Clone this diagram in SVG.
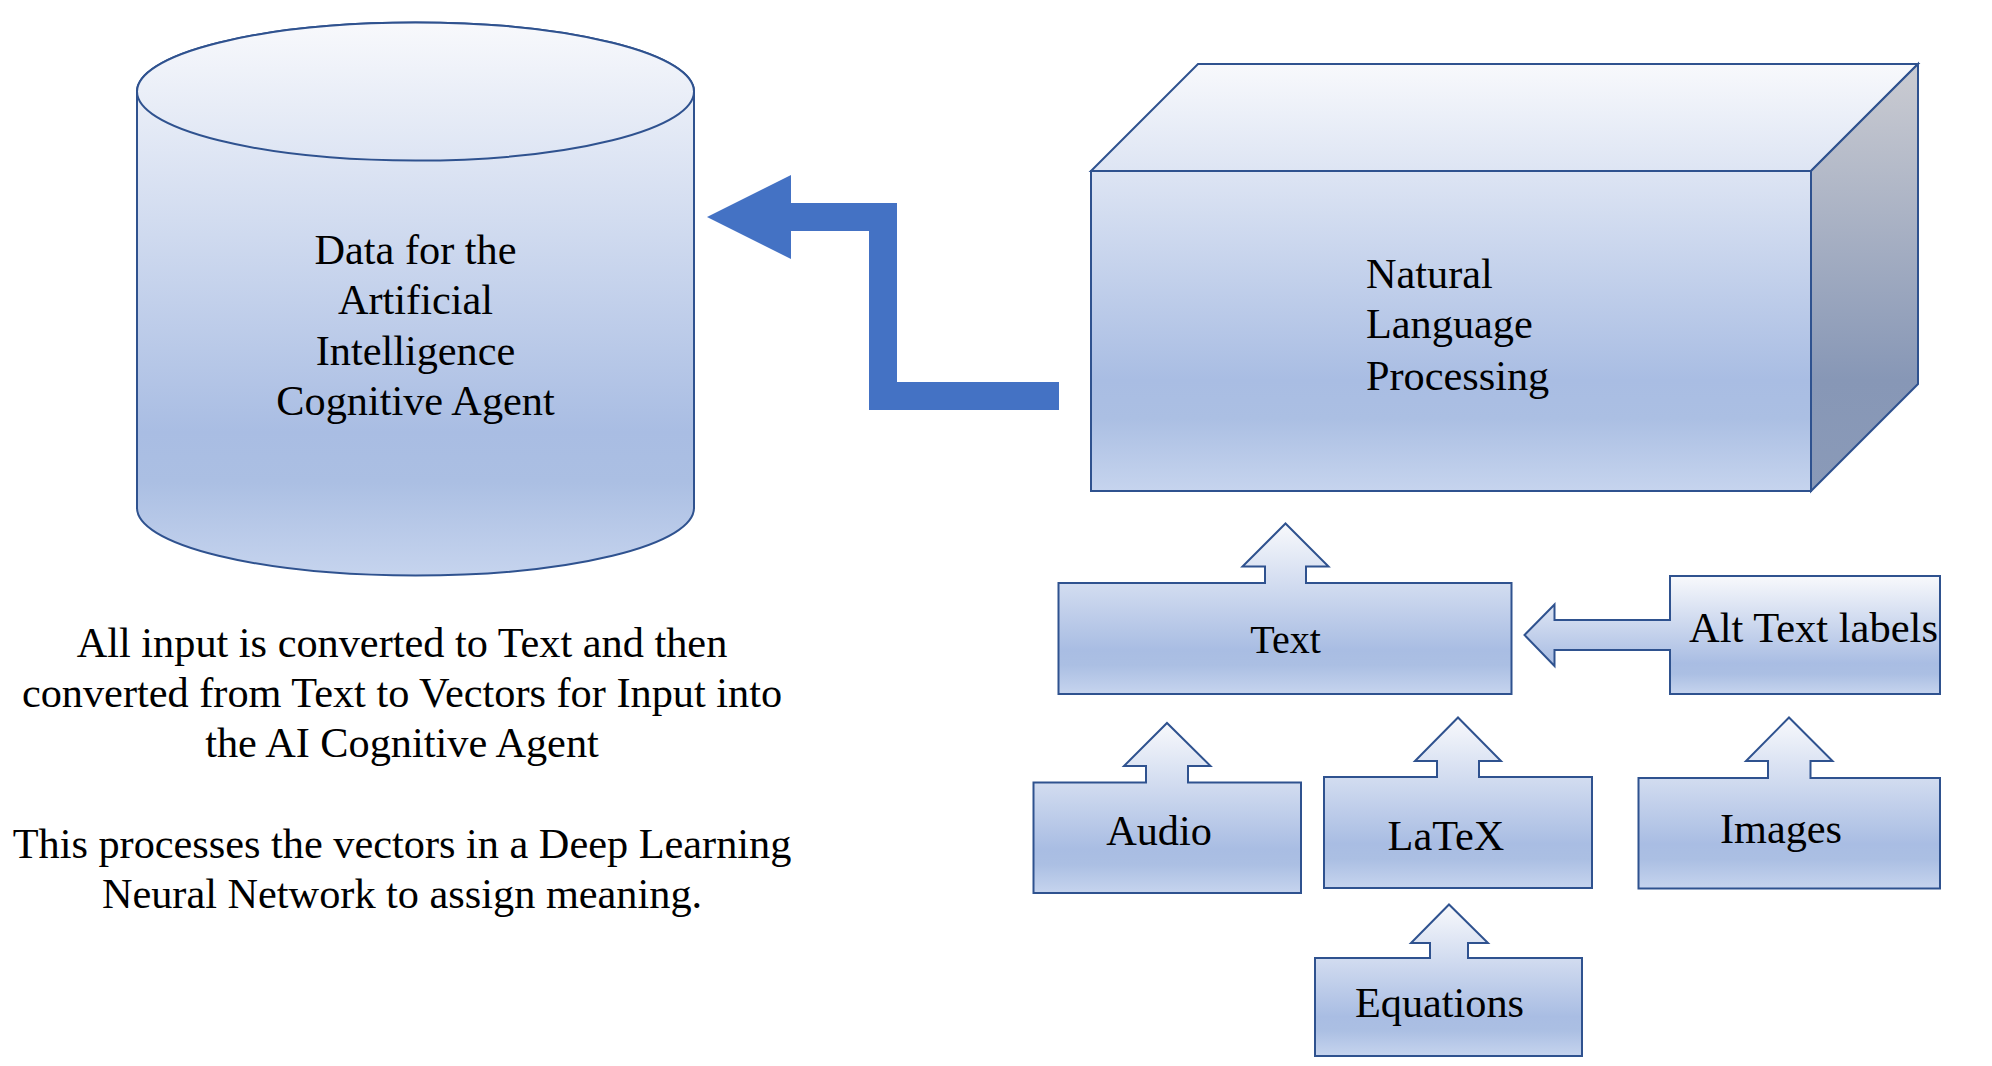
<svg xmlns="http://www.w3.org/2000/svg" width="1992" height="1066" viewBox="0 0 1992 1066">
<style>
  .shape { stroke: #2f528f; stroke-width: 2; stroke-linejoin: miter; }
  .lbl { font-family: "Liberation Serif", "Times New Roman", serif; font-size: 42.3px; fill: #000; }
  .c { text-anchor: middle; }
</style>
<defs>
  <linearGradient id="gBox" x1="0" y1="0" x2="0" y2="1">
    <stop offset="0" stop-color="#f8f9fc"/>
    <stop offset="0.74" stop-color="#a9bde3"/>
    <stop offset="0.83" stop-color="#abbfe3"/>
    <stop offset="1" stop-color="#c6d4ee"/>
  </linearGradient>
  <linearGradient id="gCyl" gradientUnits="userSpaceOnUse" x1="0" y1="22" x2="0" y2="576">
    <stop offset="0" stop-color="#f8f9fc"/>
    <stop offset="0.74" stop-color="#a9bde3"/>
    <stop offset="0.83" stop-color="#abbfe3"/>
    <stop offset="1" stop-color="#c6d4ee"/>
  </linearGradient>
  <linearGradient id="gCube" gradientUnits="userSpaceOnUse" x1="0" y1="64" x2="0" y2="491">
    <stop offset="0" stop-color="#f8f9fc"/>
    <stop offset="0.74" stop-color="#a9bde3"/>
    <stop offset="0.83" stop-color="#abbfe3"/>
    <stop offset="1" stop-color="#c6d4ee"/>
  </linearGradient>
  <linearGradient id="gSide" gradientUnits="userSpaceOnUse" x1="0" y1="64" x2="0" y2="491">
    <stop offset="0" stop-color="#cbccd2"/>
    <stop offset="0.74" stop-color="#8797b6"/>
    <stop offset="1" stop-color="#8a9ab8"/>
  </linearGradient>
</defs>

<g id="connectors">
  <path d="M707,217 L791,175 L791,203 L897,203 L897,382 L1059,382 L1059,410 L869,410 L869,231 L791,231 L791,259 Z" fill="#4472c4"/>
</g>

<g id="node-cylinder">
  <path class="shape" fill="url(#gCyl)" d="M137,91.5 L137,508 A278.5,67.5 0 0 0 694,508 L694,91.5 A278.5,69 0 0 0 137,91.5 Z"/>
  <ellipse class="shape" fill="url(#gCyl)" cx="415.5" cy="91.5" rx="278.5" ry="69"/>
  <text class="lbl c" x="415.5" y="264">Data for the</text>
  <text class="lbl c" x="415.5" y="314">Artificial</text>
  <text class="lbl c" x="415.5" y="365">Intelligence</text>
  <text class="lbl c" x="415.5" y="415">Cognitive Agent</text>
</g>

<g id="node-nlp">
  <path class="shape" fill="url(#gCube)" d="M1091,171 L1198,64 L1918,64 L1811,171 Z"/>
  <path class="shape" fill="url(#gSide)" d="M1811,171 L1918,64 L1918,384 L1811,491 Z"/>
  <rect class="shape" fill="url(#gCube)" x="1091" y="171" width="720" height="320"/>
  <text class="lbl" x="1366" y="288">Natural</text>
  <text class="lbl" x="1366" y="338">Language</text>
  <text class="lbl" x="1366" y="390">Processing</text>
</g>

<g id="node-text">
  <path class="shape" fill="url(#gBox)" d="M1058.5,583 H1265 V566.5 H1242.5 L1285.5,523.5 L1328.5,566.5 H1306 V583 H1511.5 V694 H1058.5 Z"/>
  <text class="lbl c" x="1285.5" y="653" style="font-size:40px">Text</text>
</g>

<g id="node-alt">
  <path class="shape" fill="url(#gBox)" d="M1670,576 H1940 V694 H1670 V650 H1554.5 V666 L1524.5,635 L1554.5,604.5 V620 H1670 Z"/>
  <text class="lbl c" x="1813.5" y="642" style="font-size:42.5px">Alt Text labels</text>
</g>

<g id="node-audio">
  <path class="shape" fill="url(#gBox)" d="M1033.5,782.5 H1146 V766 H1124 L1167,723 L1210.5,766 H1188 V782.5 H1301 V893 H1033.5 Z"/>
  <text class="lbl c" x="1159" y="845">Audio</text>
</g>

<g id="node-latex">
  <path class="shape" fill="url(#gBox)" d="M1324,777 H1437 V761 H1415 L1458,717.5 L1501,761 H1479 V777 H1592 V888 H1324 Z"/>
  <text class="lbl c" x="1446" y="850">LaTeX</text>
</g>

<g id="node-images">
  <path class="shape" fill="url(#gBox)" d="M1638.5,778 H1768 V761 H1746 L1789,717.5 L1832.5,761 H1810.5 V778 H1940 V888.5 H1638.5 Z"/>
  <text class="lbl c" x="1781" y="843">Images</text>
</g>

<g id="node-equations">
  <path class="shape" fill="url(#gBox)" d="M1315,958 H1430 V943 H1411 L1449,904.5 L1488,943 H1468 V958 H1582 V1056 H1315 Z"/>
  <text class="lbl c" x="1439.5" y="1017">Equations</text>
</g>

<g id="caption">
  <text class="lbl c" x="402" y="657">All input is converted to Text and then</text>
  <text class="lbl c" x="402" y="707">converted from Text to Vectors for Input into</text>
  <text class="lbl c" x="402" y="757">the AI Cognitive Agent</text>
  <text class="lbl c" x="402" y="858">This processes the vectors in a Deep Learning</text>
  <text class="lbl c" x="402" y="908">Neural Network to assign meaning.</text>
</g>
</svg>
